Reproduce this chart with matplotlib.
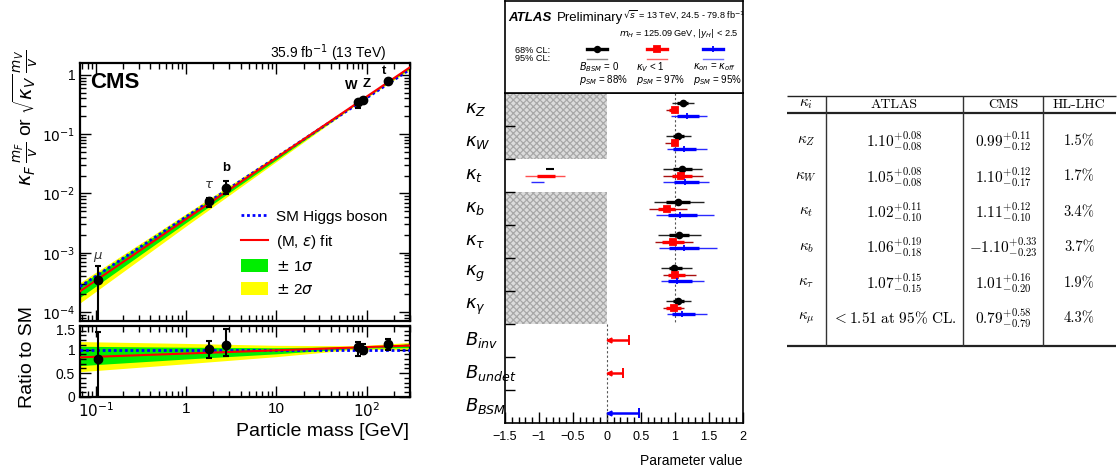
import matplotlib
matplotlib.use("Agg")
import matplotlib.pyplot as plt
import matplotlib.ticker as mticker
import matplotlib.transforms as mtransforms
from matplotlib.lines import Line2D
from matplotlib.patches import Patch, Rectangle
import numpy as np

plt.rcParams["font.family"] = ["Liberation Sans", "DejaVu Sans"]
plt.rcParams["mathtext.fontset"] = "dejavusans"
plt.rcParams["hatch.linewidth"] = 0.9

FIG_W, FIG_H = 1119, 473
V_EW = 246.22  # GeV

# ---------------- CMS: coupling vs particle mass ----------------
cms_particles = [r"$\mu$", r"$\tau$", "b", "W", "Z", "t"]
cms_mass = np.array([0.1057, 1.777, 2.76, 80.4, 91.19, 172.5])
cms_ratio = np.array([0.795, 1.02, 1.10, 1.05, 1.00, 1.11])
cms_ratio_lo = np.array([0.0, 0.82, 0.86, 0.86, 0.90, 1.00])
cms_ratio_hi = np.array([1.37, 1.18, 1.43, 1.16, 1.11, 1.23])

band_mass = np.array([0.066, 1.0, 10.0, 80.0, 300.0])
fit_ratio = np.array([0.835, 0.916, 0.984, 1.046, 1.085])
band1_lo = np.array([0.66, 0.80, 0.91, 1.03, 1.04])
band1_hi = np.array([1.07, 1.05, 1.04, 1.06, 1.12])
band2_lo = np.array([0.53, 0.70, 0.85, 1.01, 0.99])
band2_hi = np.array([1.17, 1.13, 1.09, 1.08, 1.15])

# ---------------- ATLAS: kappa framework ----------------
atlas_rows = [r"$\kappa_Z$", r"$\kappa_W$", r"$\kappa_t$", r"$\kappa_b$",
              r"$\kappa_\tau$", r"$\kappa_g$", r"$\kappa_\gamma$",
              r"$B_{inv}$", r"$B_{undet}$", r"$B_{BSM}$"]

# B_BSM = 0 (black)
k0_c = [1.12, 1.05, 1.10, 1.04, 1.06, 0.99, 1.05]
k0_lo68 = [1.03, 0.97, 0.98, 0.87, 0.91, 0.92, 0.97]
k0_hi68 = [1.20, 1.13, 1.25, 1.22, 1.21, 1.10, 1.13]
k0_lo95 = [0.96, 0.87, 0.82, 0.70, 0.75, 0.80, 0.87]
k0_hi95 = [1.28, 1.24, 1.40, 1.43, 1.38, 1.25, 1.24]
# kappa_V < 1 (red)
kv_c = [1.00, 1.00, 1.09, 0.89, 0.97, 1.01, 0.99]
kv_lo68 = [0.92, 0.94, 0.96, 0.76, 0.81, 0.90, 0.87]
kv_hi68 = [1.00, 1.00, 1.25, 1.01, 1.13, 1.15, 1.09]
kv_lo95 = [0.87, 0.855, 0.82, 0.62, 0.71, 0.82, 0.82]
kv_hi95 = [1.00, 1.00, 1.42, 1.18, 1.27, 1.31, 1.13]
# kappa_on = kappa_off (blue)
ko_c = [1.18, 1.13, 1.15, 1.07, 1.13, 1.03, 1.10]
ko_lo68 = [1.03, 0.98, 0.99, 0.90, 0.92, 0.90, 0.96]
ko_hi68 = [1.35, 1.31, 1.35, 1.32, 1.36, 1.25, 1.30]
ko_lo95 = [0.95, 0.88, 0.82, 0.72, 0.77, 0.80, 0.88]
ko_hi95 = [1.48, 1.47, 1.51, 1.58, 1.62, 1.43, 1.47]

# negative kappa_t solutions
kt_neg_black68 = [-0.89, -0.78]
kt_neg_red68 = [-1.03, -0.76]
kt_neg_red95 = [-1.20, -0.62]
kt_neg_blue95 = [-1.12, -0.93]

# upper limits on branching ratios (row, value, scenario)
br_limits = [0.32, 0.235, 0.48]
br_scenario = ["red", "red", "blue"]

p_sm = ["88%", "97%", "95%"]

# ---------------- table ----------------
table_params = [r"$\kappa_Z$", r"$\kappa_W$", r"$\kappa_t$", r"$\kappa_b$",
                r"$\kappa_\tau$", r"$\kappa_\mu$"]
table_atlas = [r"$1.10^{+0.08}_{-0.08}$", r"$1.05^{+0.08}_{-0.08}$",
               r"$1.02^{+0.11}_{-0.10}$", r"$1.06^{+0.19}_{-0.18}$",
               r"$1.07^{+0.15}_{-0.15}$", r"$<1.51\ \mathrm{at}\ 95\%\ \mathrm{CL.}$"]
table_cms = [r"$0.99^{+0.11}_{-0.12}$", r"$1.10^{+0.12}_{-0.17}$",
             r"$1.11^{+0.12}_{-0.10}$", r"$-1.10^{+0.33}_{-0.23}$",
             r"$1.01^{+0.16}_{-0.20}$", r"$0.79^{+0.58}_{-0.79}$"]
table_hllhc = ["1.5%", "1.7%", "3.4%", "3.7%", "1.9%", "4.3%"]
table_header = [r"$\kappa_i$", "ATLAS", "CMS", "HL-LHC"]


def px_box(x0, y0, x1, y1):
    return [x0 / FIG_W, 1 - y1 / FIG_H, (x1 - x0) / FIG_W, (y1 - y0) / FIG_H]


fig = plt.figure(figsize=(FIG_W / 100, FIG_H / 100), dpi=100)

# ======================= CMS =======================
ax_m = fig.add_axes(px_box(80, 62.7, 409.5, 320.5))
ax_r = fig.add_axes(px_box(80, 326, 409.5, 396.7))

sm_vals = band_mass / V_EW
for ax, scale in ((ax_m, sm_vals), (ax_r, np.ones_like(band_mass))):
    ax.fill_between(band_mass, band2_lo * scale, band2_hi * scale, color="#ffff00", lw=0)
    ax.fill_between(band_mass, band1_lo * scale, band1_hi * scale, color="#00ee00", lw=0)
    ax.plot(band_mass, scale, color="#0000ff", lw=2, ls=(0, (1, 1)), zorder=3)
    ax.plot(band_mass, fit_ratio * scale, color="#ff0000", lw=1.5, zorder=3)

y_pts = cms_ratio * cms_mass / V_EW
y_lo = cms_ratio_lo * cms_mass / V_EW
y_hi = cms_ratio_hi * cms_mass / V_EW
ax_m.errorbar(cms_mass, y_pts, yerr=[y_pts - y_lo, y_hi - y_pts], fmt="o", color="black",
              ms=6, lw=1.5, capsize=2, capthick=1.5, zorder=5)
ax_r.errorbar(cms_mass, cms_ratio, yerr=[cms_ratio - cms_ratio_lo, cms_ratio_hi - cms_ratio],
              fmt="o", color="black", ms=6, lw=1.5, capsize=2, capthick=1.5, zorder=5)

LABEL_OFFSETS = [(0, 23), (0, 16), (0, 20), (-7, 16), (4, 16), (-4, 10)]
for name, m, y, off in zip(cms_particles, cms_mass, y_pts, LABEL_OFFSETS):
    bold = name in ("b", "W", "Z", "t")
    ax_m.annotate(name, (m, y), xytext=off, textcoords="offset pixels", ha="center",
                  va="center", fontsize=9.5, color="black" if bold else "#333333",
                  fontweight="bold" if bold else "normal")

for ax in (ax_m, ax_r):
    ax.set_xscale("log")
    ax.set_xlim(0.066, 300)
    ax.tick_params(which="both", direction="in", top=True, right=True, labelsize=10)
    ax.tick_params(which="major", length=8, width=1)
    ax.tick_params(which="minor", length=4, width=1)
    for s in ax.spines.values():
        s.set_linewidth(1.6)

ax_m.set_yscale("log")
ax_m.set_ylim(7.2e-5, 1.6)
ax_m.set_yticks([1e-4, 1e-3, 1e-2, 1e-1, 1])
ax_m.set_yticklabels([r"$10^{-4}$", r"$10^{-3}$", r"$10^{-2}$", r"$10^{-1}$", "1"])
ax_m.yaxis.set_minor_locator(mticker.LogLocator(subs=np.arange(2, 10)))
ax_m.yaxis.set_minor_formatter(mticker.NullFormatter())
ax_m.tick_params(axis="x", which="both", labelbottom=False)

ax_r.set_ylim(0, 1.5)
ax_r.set_yticks([0, 0.5, 1, 1.5])
ax_r.set_yticklabels(["0", "0.5", "1", "1.5"])
ax_r.yaxis.set_minor_locator(mticker.MultipleLocator(0.1))
ax_r.set_xticks([0.1, 1, 10, 100])
ax_r.set_xticklabels([r"$10^{-1}$", "1", "10", r"$10^{2}$"])
ax_r.xaxis.set_minor_formatter(mticker.NullFormatter())
ax_r.tick_params(axis="x", labelsize=11)
ax_r.set_xlabel("Particle mass [GeV]", fontsize=14, loc="right", labelpad=2)
# nudge the top ratio label down a little so it clears 10^-4 above it
shift_down = mtransforms.ScaledTranslation(0, -3 / 100, fig.dpi_scale_trans)
for lab in ax_r.get_yticklabels():
    if lab.get_text() == "1.5":
        lab.set_transform(lab.get_transform() + shift_down)

ax_m.text(0.03, 0.925, "CMS", transform=ax_m.transAxes, fontsize=16, fontweight="bold",
          va="center")
ax_m.text(0.93, 1.038, r"35.9 fb$^{-1}$ (13 TeV)", transform=ax_m.transAxes, fontsize=10,
          ha="right", va="center")
fig.text(25 / FIG_W, 1 - 118 / FIG_H,
         r"$\kappa_F\,\frac{m_F}{v}$ or $\sqrt{\kappa_V}\,\frac{m_V}{v}$",
         rotation=90, ha="center", va="center", fontsize=14)
fig.text(28 / FIG_W, 1 - 357 / FIG_H, "Ratio to SM", rotation=90, ha="center",
         va="center", fontsize=14)

handles = [Line2D([], [], color="#0000ff", lw=2, ls=(0, (1, 1))),
           Line2D([], [], color="#ff0000", lw=1.5),
           Patch(facecolor="#00ee00"), Patch(facecolor="#ffff00")]
ax_m.legend(handles, ["SM Higgs boson", r"(M, $\epsilon$) fit", r"$\pm$ 1$\sigma$",
                      r"$\pm$ 2$\sigma$"],
            loc="upper left", bbox_to_anchor=(0.47, 0.455), frameon=False, fontsize=11,
            handlelength=1.8, handleheight=0.95, labelspacing=0.55, handletextpad=0.5,
            borderaxespad=0)

# ======================= ATLAS =======================
ax_a = fig.add_axes(px_box(505, 92.7, 742.7, 423))
ax_h = fig.add_axes(px_box(505, 0.8, 742.7, 92.7))

ax_a.set_xlim(-1.5, 2)
ax_a.set_ylim(10, 0)

n_k = len(k0_c)
for start, stop in ((0, 2), (3, 7)):
    ax_a.add_patch(Rectangle((-1.5, start), 1.5, stop - start, facecolor="#dcdcdc",
                             edgecolor="#a8a8a8", hatch="xxxxx", lw=0, zorder=1))
ax_a.vlines(1, 0, 7, color="#555555", lw=0.8, ls=(0, (2, 2)), zorder=2)
ax_a.vlines(0, 7, 10, color="#555555", lw=0.8, ls=(0, (2, 2)), zorder=2)

rows = np.arange(n_k)
scenarios = [
    (0.32, k0_c, k0_lo68, k0_hi68, k0_lo95, k0_hi95, "black", "#222222", "o", 4.2),
    (0.52, kv_c, kv_lo68, kv_hi68, kv_lo95, kv_hi95, "#ff0000", "#a81010", "s", 4.2),
    (0.70, ko_c, ko_lo68, ko_hi68, ko_lo95, ko_hi95, "#0000ff", "#2a2aff", "|", 5),
]
for off, c, lo68, hi68, lo95, hi95, col68, col95, mk, ms in scenarios:
    yy = rows + off
    ax_a.hlines(yy, lo95, hi95, color=col95, lw=1.0, zorder=3)
    ax_a.hlines(yy, lo68, hi68, color=col68, lw=2.4, zorder=4)
    ax_a.plot(c, yy, ls="none", marker=mk, color=col68, ms=ms, mew=1.3, zorder=5)

kt_row = 2
ax_a.hlines(kt_row + 0.32, *kt_neg_black68, color="black", lw=1.5, zorder=4)
ax_a.hlines(kt_row + 0.52, *kt_neg_red95, color="#ff5050", lw=1.0, zorder=3)
ax_a.hlines(kt_row + 0.52, *kt_neg_red68, color="#ff0000", lw=2.4, zorder=4)
ax_a.hlines(kt_row + 0.70, *kt_neg_blue95, color="#2a2aff", lw=1.0, zorder=3)

br_offsets = {"red": 0.5, "blue": 0.70}
br_colors = {"red": "#ff0000", "blue": "#0000ff"}
for i, (val, sc) in enumerate(zip(br_limits, br_scenario)):
    yy = n_k + i + br_offsets[sc]
    col = br_colors[sc]
    ax_a.hlines(yy, 0, val, color=col, lw=1.8, zorder=4)
    ax_a.plot(val, yy, marker="|", ms=7, mew=1.4, color=col, zorder=5)
    ax_a.plot(0.025, yy, marker="<", ms=3.5, color=col, zorder=5)

ax_a.set_yticks(np.arange(1, 10))
ax_a.set_yticklabels([])
ax_a.tick_params(axis="y", which="major", direction="in", length=7, width=1, right=False)
ax_a.xaxis.set_major_locator(mticker.MultipleLocator(0.5))
ax_a.xaxis.set_minor_locator(mticker.MultipleLocator(0.1))
ax_a.xaxis.set_major_formatter(mticker.FuncFormatter(
    lambda v, p: f"{v:g}".replace("-", "\u2212")))
ax_a.tick_params(axis="x", which="both", direction="in", labelsize=9, top=False, pad=6)
ax_a.tick_params(axis="x", which="major", length=8, width=1)
ax_a.tick_params(axis="x", which="minor", length=4, width=1)
for s in ax_a.spines.values():
    s.set_linewidth(1.2)
ax_a.set_xlabel("Parameter value", fontsize=10, loc="right", labelpad=8)

trans = mtransforms.blended_transform_factory(ax_a.transAxes, ax_a.transData)
for i, name in enumerate(atlas_rows):
    ax_a.text(-0.17, i + 0.5, name, transform=trans, fontsize=13, ha="left", va="center")

# header with legend
ax_h.set_xlim(505, 742.7)
ax_h.set_ylim(92.7, 0.8)
ax_h.set_xticks([])
ax_h.set_yticks([])
for s in ax_h.spines.values():
    s.set_linewidth(1.2)
ax_h.text(508, 18, "ATLAS", fontweight="bold", fontstyle="italic", fontsize=9.5, va="center")
ax_h.text(556.5, 18, "Preliminary", fontsize=9.5, va="center")
ax_h.text(623, 15, r"$\sqrt{s}$ = 13 TeV, 24.5 - 79.8 fb$^{-1}$", fontsize=6.6, va="center")
ax_h.text(738, 33.5, r"$m_H$ = 125.09 GeV, $|y_H|$ < 2.5", fontsize=6.6, ha="right",
          va="center")
ax_h.text(515, 50, "68% CL:", fontsize=6.6, va="center")
ax_h.text(515, 58.5, "95% CL:", fontsize=6.6, va="center")

legend_x = [586.7, 646.7, 702.7]
legend_labels = [r"$B_{BSM}$ = 0", r"$\kappa_V$ < 1", r"$\kappa_{on}$ = $\kappa_{off}$"]
legend_text_x = [579.3, 636.0, 693.3]
legend_styles = [("black", "#888888", "o", 4), ("#ff0000", "#ff6060", "s", 4.2),
                 ("#0000ff", "#7070ff", "|", 4.5)]
for x0, (c68, c95, mk, ms) in zip(legend_x, legend_styles):
    ax_h.plot([x0, x0 + 20], [49.3, 49.3], color=c68, lw=2.4)
    ax_h.plot(x0 + 10, 49.3, marker=mk, color=c68, ms=ms, mew=1.3)
    ax_h.plot([x0, x0 + 20], [59, 59], color=c95, lw=1.0)
for x0, lab, p in zip(legend_text_x, legend_labels, p_sm):
    ax_h.text(x0, 67, lab, fontsize=7, va="center")
    ax_h.text(x0, 79.5, r"$p_{SM}$ = " + p, fontsize=7, va="center")

# ======================= table =======================
ax_t = fig.add_axes(px_box(780, 80, 1119, 360))
ax_t.set_xlim(780, 1119)
ax_t.set_ylim(360, 80)
ax_t.axis("off")

col_edges = [786.7, 825.7, 963.3, 1042.7, 1116]
col_centers = [(a + b) / 2 for a, b in zip(col_edges[:-1], col_edges[1:])]
top_y, head_y, bottom_y = 96, 112.7, 346
ax_t.hlines(top_y, col_edges[0], col_edges[-1], color="#222222", lw=1.0)
ax_t.hlines(head_y, col_edges[0], col_edges[-1], color="#222222", lw=1.6)
ax_t.hlines(bottom_y, col_edges[0], col_edges[-1], color="#222222", lw=1.6)
ax_t.vlines(col_edges[1:-1], top_y, bottom_y, color="#333333", lw=1.0)

header_y = (top_y + head_y) / 2
for x, txt in zip(col_centers, table_header):
    if txt.startswith("$"):
        ax_t.text(x, header_y, txt, ha="center", va="center", fontsize=11,
                  math_fontfamily="cm")
    else:
        ax_t.text(x, header_y + 0.5, txt, ha="center", va="center", fontsize=10,
                  family=["cmr10", "DejaVu Serif"])

row0, row_step = 141.5, 35.4
for i in range(len(table_params)):
    yy = row0 + i * row_step
    ax_t.text(col_centers[0], yy, table_params[i], ha="center", va="center", fontsize=11,
              math_fontfamily="cm")
    ax_t.text(col_centers[1], yy, table_atlas[i], ha="center", va="center", fontsize=11,
              math_fontfamily="cm")
    ax_t.text(col_centers[2], yy, table_cms[i], ha="center", va="center", fontsize=11,
              math_fontfamily="cm")
    ax_t.text(col_centers[3], yy, table_hllhc[i], ha="center", va="center", fontsize=10.5,
              family=["cmr10", "DejaVu Serif"])

fig.savefig("out.png", dpi=100)
plt.close(fig)
